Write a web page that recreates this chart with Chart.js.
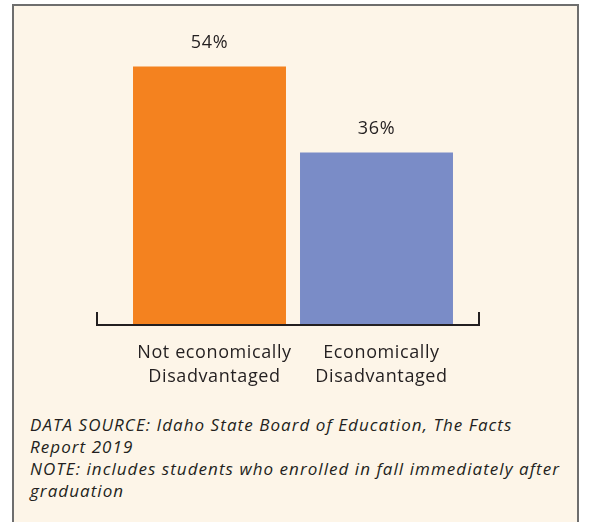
<!DOCTYPE html>
<html><head><meta charset="utf-8">
<script src="https://cdn.jsdelivr.net/npm/chart.js@4/dist/chart.umd.min.js"></script>
<style>
html,body{margin:0;padding:0;background:#fff;width:593px;height:522px;overflow:hidden;}
#box{position:absolute;left:12px;top:4px;width:563px;height:530px;background:#FDF5E8;border:2px solid #6e6e6e;border-bottom:none;}
#wrap{position:absolute;left:0;top:0;width:593px;height:400px;}
#note{position:absolute;left:30px;top:414px;width:545px;font-family:"Open Sans",sans-serif;font-style:italic;font-size:17px;letter-spacing:1.05px;line-height:22px;color:#231f20;white-space:nowrap;}
</style></head>
<body>
<div id="box"></div>
<div id="wrap"><canvas id="c" width="593" height="400"></canvas></div>
<div id="note">DATA SOURCE: Idaho State Board of Education, The Facts<br>Report 2019<br>NOTE: includes students who enrolled in fall immediately after<br>graduation</div>
<script>
const categories = [["Not economically","Disadvantaged"],["Economically","Disadvantaged"]];
const values = [54, 36];
const colors = ["#F4821F", "#7A8CC7"];

const FONT = '"Open Sans", sans-serif';
const TXT = '#231f20';

const overlay = {
  id: 'overlay',
  afterDatasetsDraw(chart) {
    const ctx = chart.ctx;
    const xs = chart.scales.x, ys = chart.scales.y;
    const a = chart.chartArea;
    ctx.save();
    ctx.strokeStyle = '#231f20';
    ctx.lineWidth = 2;
    ctx.beginPath();
    ctx.moveTo(a.left - 29, a.bottom - 12);
    ctx.lineTo(a.left - 29, a.bottom + 1);
    ctx.lineTo(a.right + 19, a.bottom + 1);
    ctx.lineTo(a.right + 19, a.bottom - 12);
    ctx.stroke();
    ctx.fillStyle = TXT;
    ctx.font = '18px ' + FONT;
    if ('letterSpacing' in ctx) ctx.letterSpacing = '0.6px';
    ctx.textAlign = 'center';
    ctx.textBaseline = 'middle';
    values.forEach((v, i) => {
      const x = xs.getPixelForValue(i);
      ctx.fillText(v + '%', x, ys.getPixelForValue(v) - 24);
      categories[i].forEach((line, j) => {
        ctx.fillText(line, x + 5, a.bottom + 29 + j * 24);
      });
    });
    ctx.restore();
  }
};

new Chart(document.getElementById('c'), {
  type: 'bar',
  data: {
    labels: categories,
    datasets: [{ data: values, backgroundColor: colors, borderWidth: 0,
      categoryPercentage: 1, barPercentage: 0.916 }]
  },
  options: {
    responsive: false, animation: false,
    layout: { padding: { left: 126, right: 133, top: 38, bottom: 76 } },
    plugins: { legend: { display: false }, tooltip: { enabled: false } },
    scales: {
      x: { display: false },
      y: { display: false, min: 0, max: 60 }
    }
  },
  plugins: [overlay]
});
</script>
</body></html>
